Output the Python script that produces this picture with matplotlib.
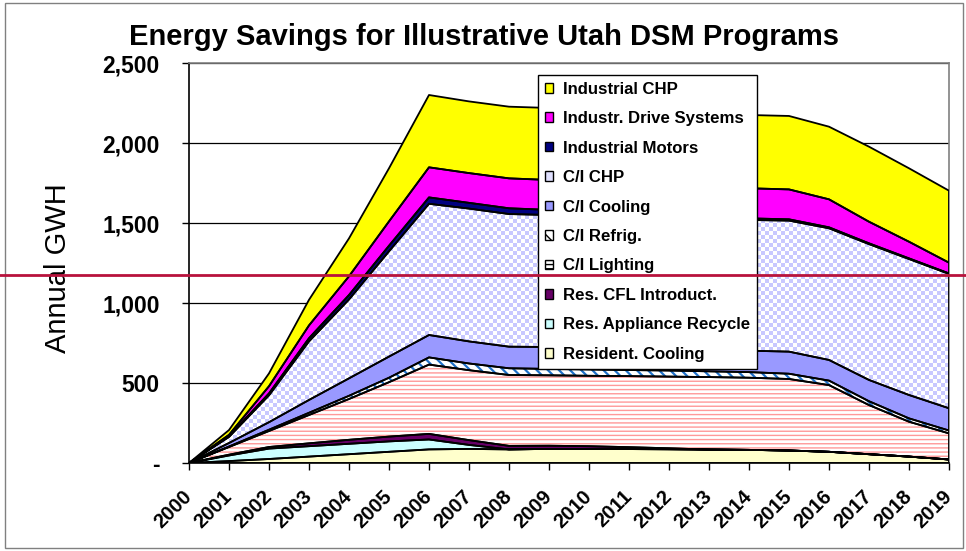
import numpy as np
import matplotlib
matplotlib.use("Agg")
import matplotlib.pyplot as plt
import matplotlib.transforms as mtransforms
from matplotlib.patches import Patch, Rectangle
from matplotlib.lines import Line2D
from matplotlib.colors import ListedColormap

plt.rcParams['font.family'] = ['Liberation Sans', 'DejaVu Sans']

# data (annual GWh), stacked bottom -> top
years = list(range(2000, 2020))
year_labels = [str(y) for y in years]

res_cooling = [0, 12, 25, 40, 55, 70, 85, 88, 85, 88, 88, 87, 86, 84, 82, 78, 70, 55, 40, 22]
res_appliance = [0, 35, 65, 65, 65, 65, 62, 25, 0, 0, 0, 0, 0, 0, 0, 0, 0, 0, 0, 0]
res_cfl = [0, 5, 10, 18, 25, 30, 35, 30, 22, 20, 17, 12, 6, 0, 0, 0, 0, 0, 0, 0]
ci_lighting = [0, 48, 100, 177, 255, 340, 433, 437, 443, 440, 440, 444, 448, 453, 451, 447, 417, 307, 218, 163]
ci_refrig = [0, 3, 8, 14, 20, 28, 45, 42, 42, 40, 40, 38, 38, 36, 35, 33, 28, 24, 21, 18]
ci_cooling = [0, 22, 47, 80, 109, 132, 140, 138, 135, 137, 135, 134, 132, 132, 134, 138, 129, 133, 146, 139]
ci_chp = [0, 38, 168, 366, 493, 658, 820, 830, 829, 825, 824, 823, 822, 820, 817, 819, 823, 849, 850, 840]
ind_motors = [0, 5, 12, 20, 28, 35, 40, 36, 36, 32, 28, 24, 20, 15, 10, 8, 6, 5, 4, 3]
ind_drive = [0, 8, 45, 80, 117, 152, 188, 186, 187, 187, 187, 187, 187, 187, 188, 187, 175, 135, 104, 67]
ind_chp = [0, 30, 80, 160, 237, 332, 452, 448, 448, 450, 452, 454, 455, 456, 458, 459, 454, 469, 459, 450]

series_names = ["Resident. Cooling", "Res. Appliance Recycle", "Res. CFL Introduct.",
                "C/I Lighting", "C/I Refrig.", "C/I Cooling", "C/I CHP",
                "Industrial Motors", "Industr. Drive Systems", "Industrial CHP"]
series_values = [res_cooling, res_appliance, res_cfl, ci_lighting, ci_refrig,
                 ci_cooling, ci_chp, ind_motors, ind_drive, ind_chp]

y_ticks = [0, 500, 1000, 1500, 2000, 2500]
y_tick_labels = ["-", "500", "1,000", "1,500", "2,000", "2,500"]

# styles: face colour, hatch, hatch colour
styles = {
    "Resident. Cooling": ("#FFFFCC", None, None),
    "Res. Appliance Recycle": ("#CCFFFF", None, None),
    "Res. CFL Introduct.": ("#660066", None, None),
    "C/I Lighting": ("white", "----", "#FF9999"),
    "C/I Refrig.": ("white", "\\\\\\", "#1F70C8"),
    "C/I Cooling": ("#9999FF", None, None),
    "C/I CHP": ("#E0E0FF", None, None),
    "Industrial Motors": ("#000080", None, None),
    "Industr. Drive Systems": ("#FF00FF", None, None),
    "Industrial CHP": ("#FFFF00", None, None),
}

fig = plt.figure(figsize=(9.66, 5.51), dpi=100)
ax = fig.add_axes([189 / 966, 1 - 463 / 551, 760 / 966, 400 / 551])

x = np.array(years)
stack = np.cumsum(np.array(series_values, dtype=float), axis=0)
bottoms = np.vstack([np.zeros(len(years)), stack[:-1]])

for i, name in enumerate(series_names):
    face, hatch, hcol = styles[name]
    lo, hi = bottoms[i], stack[i]
    if name == "C/I CHP":
        # checkered fill, clipped to the area
        poly = ax.fill_between(x, lo, hi, facecolor="white", linewidth=0, zorder=2)
        ii, jj = np.indices((100, 190))
        checker = (ii + jj) % 2
        im = ax.imshow(checker, cmap=ListedColormap(["white", "#C8C8FF"]),
                       extent=(years[0], years[-1], 0, 2500), origin="lower",
                       aspect="auto", interpolation="nearest", zorder=2.1)
        im.set_clip_path(poly.get_paths()[0], ax.transData)
    elif hatch:
        with plt.rc_context({"hatch.linewidth": 1.6 if "Refrig" in name else 1.0}):
            ax.fill_between(x, lo, hi, facecolor=face, edgecolor=hcol, hatch=hatch,
                            linewidth=0, zorder=2)
    else:
        ax.fill_between(x, lo, hi, facecolor=face, linewidth=0, zorder=2)
    # black outline of each area
    ax.fill_between(x, lo, hi, facecolor="none", edgecolor="black", linewidth=1.3, zorder=3)

ax.set_xlim(years[0], years[-1])
ax.set_ylim(0, 2500)
ax.set_xticks(years)
ax.set_xticklabels(year_labels, rotation=45, ha="right", va="center", rotation_mode="anchor",
                   fontsize=14.5, fontweight="bold")
shift = mtransforms.ScaledTranslation(-0.1, 0, fig.dpi_scale_trans)
for lab in ax.get_xticklabels():
    lab.set_transform(lab.get_transform() + shift)
ax.set_yticks(y_ticks)
ax.set_yticklabels(y_tick_labels, fontsize=16.5, fontweight="bold")
ax.tick_params(axis="y", direction="out", length=5, width=1, pad=16)
ax.tick_params(axis="x", direction="out", length=5, width=1, pad=17)

ax.set_axisbelow(True)
ax.yaxis.grid(True, color="black", linewidth=0.9)
for s in ["top", "right"]:
    ax.spines[s].set_color("#808080")
    ax.spines[s].set_linewidth(1.2)
for s in ["left", "bottom"]:
    ax.spines[s].set_color("black")
    ax.spines[s].set_linewidth(1.2)

# legend, reverse order (top series first)
handles = []
for name in reversed(series_names):
    face, hatch, hcol = styles[name]
    handles.append(Patch(facecolor=face, edgecolor="black", hatch=hatch, linewidth=1, label=name))
leg = ax.legend(handles=handles, loc="upper left", bbox_to_anchor=(538 / 966, 1 - 75 / 551),
                bbox_transform=fig.transFigure, borderaxespad=0,
                prop={"weight": "bold", "size": 12.1}, handlelength=0.5, handleheight=0.5,
                handletextpad=0.6, labelspacing=0.86, borderpad=0.4,
                fancybox=False, framealpha=1, edgecolor="black")
leg.get_frame().set_linewidth(1)
leg.set_zorder(5)

fig.text(0.501, 0.933, "Energy Savings for Illustrative Utah DSM Programs",
         ha="center", va="center", fontsize=21, fontweight="bold")
fig.text(58 / 966, 1 - 268 / 551, "Annual GWH", rotation=90, ha="center", va="center",
         fontsize=21)

# outer frame and the red line across the slide
fig.add_artist(Rectangle((5 / 966, 3 / 551), 958 / 966, 545 / 551, transform=fig.transFigure,
                         fill=False, edgecolor="#808080", linewidth=1))
fig.add_artist(Line2D([0, 1], [1 - 275 / 551] * 2, transform=fig.transFigure,
                      color="#B8123C", linewidth=2, zorder=10))

fig.savefig("out.png", dpi=100)
